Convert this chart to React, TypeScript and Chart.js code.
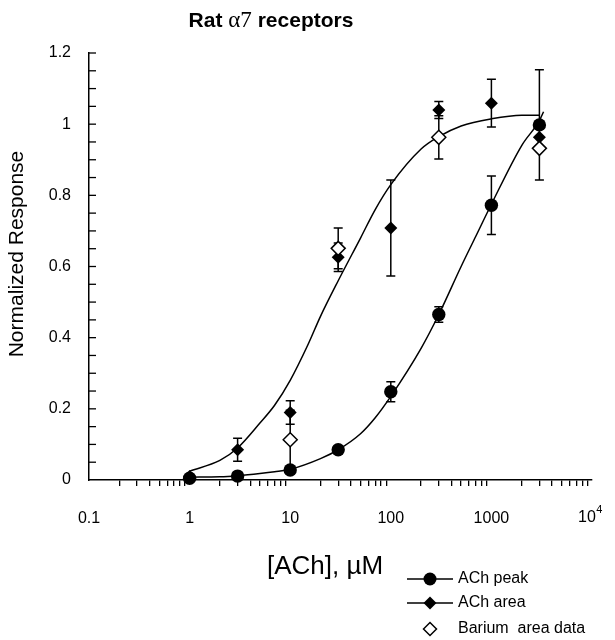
import React, { useEffect, useRef } from 'react';
import { Chart, registerables } from 'chart.js';

Chart.register(...registerables);

// ---- data ----
const concentrations = [1, 3, 10, 30, 100, 300, 1000, 3000];
const achPeak = [0.005, 0.011, 0.028, 0.085, 0.248, 0.465, 0.772, 0.998];
const achPeakErr = [0, 0, 0, 0, 0.028, 0.022, 0.082, 0.155];
const achArea = [0.01, 0.085, 0.19, 0.626, 0.708, 1.04, 1.059, 0.963];
const achAreaErr = [0, 0.032, 0.033, 0.04, 0.135, 0.024, 0.067, 0];
const bariumConc = [10, 30, 300, 3000];
const bariumArea = [0.113, 0.651, 0.963, 0.932];
const bariumErr = [0.083, 0.057, 0.061, 0];

// fitted curves, read at points along the drawn curves
const fitAreaX = [1, 2, 3, 5, 7, 10, 15, 20, 30, 50, 70, 100, 200, 300, 500, 1000, 2000, 3000];
const fitAreaY = [0.025, 0.055, 0.09, 0.16, 0.21, 0.28, 0.38, 0.46, 0.56, 0.68, 0.76, 0.83, 0.93, 0.965, 0.995, 1.015, 1.025, 1.025];
const fitPeakX = [1, 2, 3, 5, 7, 10, 20, 30, 50, 70, 100, 200, 300, 500, 700, 1000, 2000, 3000, 3300];
const fitPeakY = [0.008, 0.009, 0.012, 0.018, 0.023, 0.03, 0.06, 0.085, 0.13, 0.175, 0.235, 0.37, 0.465, 0.6, 0.685, 0.775, 0.94, 1.01, 1.035];

// axes
const xDecades = [0.1, 1, 10, 100, 1000, 10000];
const xDecadeLabels = ['0.1', '1', '10', '100', '1000', ''];
const xMinorMultipliers = [2, 3, 4, 5, 6, 7, 8, 9];
const yMin = 0;
const yMax = 1.2;
const yMinorStep = 0.05;
const yTickLabels = ['0', '0.2', '0.4', '0.6', '0.8', '1', '1.2'];

const legendItems = ['ACh peak', 'ACh area', 'Barium  area data'];
const titleParts = ['Rat ', '\u03b17', ' receptors'];
const yTitle = 'Normalized Response';
const xTitle = '[ACh], \u00b5M';

const SANS = '"Liberation Sans", Arial, sans-serif';
const SERIF = '"Liberation Serif", "Times New Roman", serif';

const xTickValues: number[] = [];
xDecades.forEach((d, i) => {
  xTickValues.push(d);
  if (i < xDecades.length - 1) xMinorMultipliers.forEach((m) => xTickValues.push(+(m * d).toPrecision(6)));
});
const yTickValues: number[] = [];
for (let k = 0; k <= Math.round((yMax - yMin) / yMinorStep); k++) yTickValues.push(+(yMin + k * yMinorStep).toFixed(4));

const isDecade = (v: number) => xDecades.some((d) => Math.abs(d - v) / d < 1e-6);

function drawMarker(ctx: CanvasRenderingContext2D, kind: string, x: number, y: number, r: number) {
  ctx.beginPath();
  if (kind === 'circle') {
    ctx.arc(x, y, r, 0, Math.PI * 2);
    ctx.fillStyle = '#000';
    ctx.fill();
  } else {
    ctx.moveTo(x - r, y);
    ctx.lineTo(x, y - r);
    ctx.lineTo(x + r, y);
    ctx.lineTo(x, y + r);
    ctx.closePath();
    if (kind === 'diamond') {
      ctx.fillStyle = '#000';
      ctx.fill();
    } else {
      ctx.fillStyle = '#fff';
      ctx.fill();
      ctx.lineWidth = 1.5;
      ctx.strokeStyle = '#000';
      ctx.stroke();
    }
  }
}

const errorBarPlugin = {
  id: 'errorBars',
  beforeDatasetsDraw(chart: any) {
    const { ctx, scales } = chart;
    const xs = scales.x;
    const ys = scales.y;
    const groups: [number[], number[], number[]][] = [
      [bariumConc, bariumArea, bariumErr],
      [concentrations, achPeak, achPeakErr],
      [concentrations, achArea, achAreaErr],
    ];
    ctx.save();
    ctx.strokeStyle = '#000';
    ctx.lineWidth = 1.5;
    groups.forEach(([xv, yv, ev]) => {
      xv.forEach((xx, i) => {
        const e = ev[i];
        if (!e) return;
        const px = xs.getPixelForValue(xx);
        const t = ys.getPixelForValue(yv[i] + e);
        const b = ys.getPixelForValue(yv[i] - e);
        ctx.beginPath();
        ctx.moveTo(px, t);
        ctx.lineTo(px, b);
        ctx.moveTo(px - 4.5, t);
        ctx.lineTo(px + 4.5, t);
        ctx.moveTo(px - 4.5, b);
        ctx.lineTo(px + 4.5, b);
        ctx.stroke();
      });
    });
    ctx.restore();
  },
};

const decorPlugin = {
  id: 'decor',
  afterDraw(chart: any) {
    const { ctx, scales, chartArea } = chart;
    const xs = scales.x;
    const ys = scales.y;
    ctx.save();
    // inward y ticks
    ctx.strokeStyle = '#000';
    ctx.lineWidth = 1.3;
    yTickValues.forEach((v) => {
      if (v === 0) return;
      const py = ys.getPixelForValue(v);
      ctx.beginPath();
      ctx.moveTo(chartArea.left, py);
      ctx.lineTo(chartArea.left + 7, py);
      ctx.stroke();
    });

    ctx.fillStyle = '#000';
    // 10^4 label
    const px4 = xs.getPixelForValue(10000);
    ctx.font = `16px ${SANS}`;
    const w10 = ctx.measureText('10').width;
    ctx.font = `11px ${SANS}`;
    const w4 = ctx.measureText('4').width;
    const start = px4 - (w10 + w4) / 2 - 2;
    ctx.textBaseline = 'alphabetic';
    ctx.textAlign = 'left';
    ctx.font = `16px ${SANS}`;
    ctx.fillText('10', start, 522);
    ctx.font = `11px ${SANS}`;
    ctx.fillText('4', start + w10 + 0.5, 513);

    // title
    const fonts = [`bold 21px ${SANS}`, `23px ${SERIF}`, `bold 21px ${SANS}`];
    const widths = titleParts.map((p, i) => {
      ctx.font = fonts[i];
      return ctx.measureText(p).width;
    });
    let tx = 271 - widths.reduce((a, b) => a + b, 0) / 2;
    titleParts.forEach((p, i) => {
      ctx.font = fonts[i];
      ctx.fillText(p, tx, 26.5);
      tx += widths[i];
    });

    // y title
    ctx.save();
    ctx.translate(17, 254);
    ctx.rotate(-Math.PI / 2);
    ctx.textAlign = 'center';
    ctx.textBaseline = 'middle';
    ctx.font = `21px ${SANS}`;
    ctx.fillText(yTitle, 0, 0);
    ctx.restore();

    // x title
    ctx.textAlign = 'center';
    ctx.textBaseline = 'alphabetic';
    ctx.font = `26px ${SANS}`;
    ctx.fillText(xTitle, 325, 574);

    // legend
    const rows = [579, 603, 629];
    const kinds = ['circle', 'diamond', 'open'];
    legendItems.forEach((label, i) => {
      const ry = rows[i];
      if (kinds[i] !== 'open') {
        ctx.beginPath();
        ctx.strokeStyle = '#000';
        ctx.lineWidth = 1.5;
        ctx.moveTo(407, ry);
        ctx.lineTo(453, ry);
        ctx.stroke();
      }
      drawMarker(ctx, kinds[i], 430, ry, 6.5);
      ctx.fillStyle = '#000';
      ctx.textAlign = 'left';
      ctx.textBaseline = 'middle';
      ctx.font = `16px ${SANS}`;
      ctx.fillText(label, 458, ry);
    });
    ctx.restore();
  },
};

export default function App() {
  const ref = useRef<HTMLCanvasElement | null>(null);
  useEffect(() => {
    if (!ref.current) return;
    const pts = (xs: number[], ys: number[]) => xs.map((x, i) => ({ x, y: ys[i] }));
    const chart = new Chart(ref.current, {
      type: 'scatter',
      data: {
        datasets: [
          {
            label: 'Barium area data',
            data: pts(bariumConc, bariumArea),
            pointStyle: 'rectRot',
            pointRadius: 7,
            backgroundColor: '#fff',
            borderColor: '#000',
            borderWidth: 1.5,
            clip: false,
          } as any,
          {
            label: 'ACh peak',
            data: pts(concentrations, achPeak),
            pointStyle: 'circle',
            pointRadius: 6.7,
            backgroundColor: '#000',
            borderColor: '#000',
            borderWidth: 0,
            clip: false,
          },
          {
            label: 'ACh area',
            data: pts(concentrations, achArea),
            pointStyle: 'rectRot',
            pointRadius: 6.5,
            backgroundColor: '#000',
            borderColor: '#000',
            borderWidth: 0,
            clip: false,
          },
          {
            label: 'ACh area fit',
            data: pts(fitAreaX, fitAreaY),
            showLine: true,
            pointRadius: 0,
            borderColor: '#000',
            borderWidth: 1.5,
            cubicInterpolationMode: 'monotone',
            clip: false,
          },
          {
            label: 'ACh peak fit',
            data: pts(fitPeakX, fitPeakY),
            showLine: true,
            pointRadius: 0,
            borderColor: '#000',
            borderWidth: 1.5,
            cubicInterpolationMode: 'monotone',
            clip: false,
          },
        ],
      },
      options: {
        responsive: false,
        animation: false,
        events: [],
        layout: { padding: { left: 0, right: 15, top: 53, bottom: 100 } },
        plugins: { legend: { display: false }, tooltip: { enabled: false }, title: { display: false } },
        scales: {
          x: {
            type: 'logarithmic',
            min: 0.1,
            max: 10000,
            afterBuildTicks: (s: any) => {
              s.ticks = xTickValues.map((v) => ({ value: v }));
            },
            afterFit: (s: any) => {
              s.height = 60;
            },
            grid: {
              drawOnChartArea: false,
              drawTicks: true,
              tickLength: 6,
              lineWidth: 1.3,
              color: (c: any) => (c.tick && isDecade(c.tick.value) ? 'rgba(0,0,0,0)' : '#000'),
            },
            border: { display: true, color: '#000', width: 1.5 },
            ticks: {
              autoSkip: false,
              maxRotation: 0,
              minRotation: 0,
              padding: 23,
              color: '#000',
              font: { family: SANS, size: 16 },
              callback: (v: any) => {
                const idx = xDecades.findIndex((d) => Math.abs(d - Number(v)) / d < 1e-6);
                return idx >= 0 ? xDecadeLabels[idx] : '';
              },
            },
          },
          y: {
            type: 'linear',
            min: yMin,
            max: yMax,
            afterBuildTicks: (s: any) => {
              s.ticks = yTickValues.map((v) => ({ value: v }));
            },
            afterFit: (s: any) => {
              s.width = 89;
            },
            grid: { drawOnChartArea: false, drawTicks: false },
            border: { display: true, color: '#000', width: 1.5 },
            ticks: {
              autoSkip: false,
              padding: 18,
              color: '#000',
              font: { family: SANS, size: 16 },
              callback: (v: any) => {
                const k = Math.round(Number(v) / yMinorStep);
                return k % 4 === 0 ? yTickLabels[k / 4] : '';
              },
            },
          },
        },
      },
      plugins: [errorBarPlugin, decorPlugin],
    } as any);
    return () => chart.destroy();
  }, []);

  return (
    <div style={{ position: 'fixed', left: 0, top: 0, width: 615, height: 640, background: '#fff' }}>
      <canvas ref={ref} width={615} height={640} style={{ display: 'block' }} />
    </div>
  );
}
